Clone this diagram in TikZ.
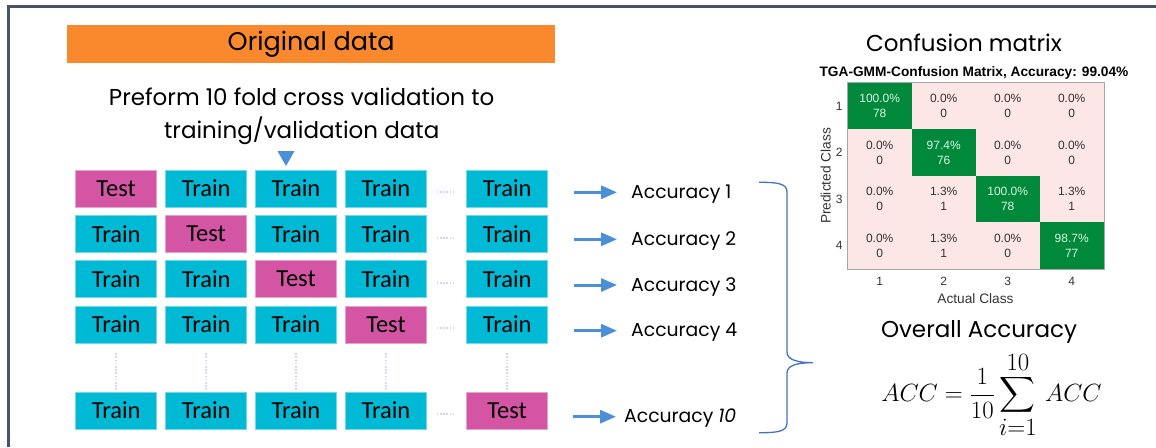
\documentclass[tikz,border=0pt]{standalone}
\usepackage{fontspec}
\usepackage{amsmath}
\newfontfamily\gothic{Poppins}
\newfontfamily\calib{Carlito}
\newfontfamily\arialf{Liberation Sans}
\usetikzlibrary{arrows.meta}
\definecolor{framecol}{HTML}{44546A}
\definecolor{origorange}{HTML}{FA882C}
\definecolor{trainteal}{HTML}{00B9D5}
\definecolor{testpink}{HTML}{D455A4}
\definecolor{arrowblue}{HTML}{4A8FD8}
\definecolor{braceblue}{HTML}{4472C4}
\definecolor{dotcol}{HTML}{D3D8F0}
\definecolor{cmgreen}{HTML}{00893B}
\definecolor{cmpink}{HTML}{FDE6E6}
\definecolor{cmgreentext}{HTML}{DDF5E4}
\definecolor{cmtext}{HTML}{333333}
\tikzset{
  foldbox/.style={minimum width=81pt, minimum height=37pt, inner sep=0pt, line width=0.6pt,
    font=\calib\fontsize{24.5}{24.5}\selectfont},
  trainbox/.style={foldbox, fill=trainteal, draw=trainteal!55!white},
  testbox/.style={foldbox, fill=testpink, draw=testpink!55!white},
  dotsty/.style={dotcol, line width=2.2pt, dash pattern=on 1.6pt off 1.6pt},
  accarrow/.style={arrowblue, line width=3pt, -{Triangle[length=16pt,width=13pt]}},
  acclabel/.style={anchor=base west, inner sep=0pt, font=\gothic\fontsize{18.8}{18.8}\selectfont},
  cmcell/.style={align=center, inner sep=0pt, font=\arialf\fontsize{12}{15}\selectfont},
  cmtick/.style={inner sep=0pt, text=cmtext, font=\arialf\fontsize{12}{12}\selectfont},
  cmaxis/.style={inner sep=0pt, text=cmtext, font=\arialf\fontsize{13.7}{13.7}\selectfont},
  heading/.style={inner sep=0pt, font=\gothic\fontsize{23}{23}\selectfont}
}
\begin{document}
\begin{tikzpicture}[x=1pt,y=-1pt]
\useasboundingbox (0,0) rectangle (1156,447);
% frame
\draw[framecol, line width=2.2pt] (8.5,447) -- (8.5,6.5) -- (1156,6.5);

% original data
\node[fill=origorange, minimum width=488pt, minimum height=37.5pt, inner sep=0pt,
      font=\gothic\fontsize{25.5}{25.5}\selectfont] (orig) at (311.2,43.8) {Original data};
\node[align=center, inner sep=0pt, font=\gothic\fontsize{23}{33}\selectfont] (pref) at (301.7,116.5)
  {Preform 10 fold cross validation to\\training/validation data};
\fill[arrowblue] (277.5,151) -- (294.5,151) -- (286,166) -- cycle;

% grid of folds
\foreach \r/\y in {1/188.3,2/233.7,3/279,4/324.3,5/410.3}{
  \foreach \c/\x in {1/116.2,2/206.2,3/296,4/386,5/507.2}{
    \ifnum\r=\c\relax
      \node[testbox] (b\r\c) at (\x,\y) {Test};
    \else
      \node[trainbox] (b\r\c) at (\x,\y) {Train};
    \fi
  }
  \draw[dotsty, shorten <=10pt, shorten >=13pt] ([yshift=-4pt]b\r4.east) -- ([yshift=-4pt]b\r5.west);
}
\foreach \c in {1,2,3,4,5}{
  \draw[dotsty, shorten <=10pt, shorten >=2pt] (b4\c.south) -- (b5\c.north);
}

% accuracy arrows and labels
\foreach \r/\y/\base in {1/192.3/198.3,2/239.3/245.3,3/285/291,4/330.7/336.7}{
  \coordinate (s\r) at (574,\y);
  \coordinate (e\r) at (617,\y);
  \draw[accarrow] (s\r) -- (e\r);
  \node[acclabel] (acc\r) at (631,\base) {Accuracy \r};
}
\coordinate (s10) at (573,416.7);
\coordinate (e10) at (616,416.7);
\draw[accarrow] (s10) -- (e10);
\node[acclabel] (acc10) at (624,422.7) {Accuracy \textit{10}};

% brace
\draw[braceblue, line width=1.3pt]
  (759,182.3) .. controls (776,182.3) and (787,183) .. (787,192)
  -- (787,352) .. controls (787,360) and (798,362.7) .. (813,362.7)
  .. controls (798,362.7) and (787,365) .. (787,373)
  -- (787,423) .. controls (787,432) and (776,432.7) .. (759,432.7);

% confusion matrix
\node[heading] (cmhead) at (964,43) {Confusion matrix};
\node[inner sep=0pt, font=\arialf\bfseries\fontsize{13.7}{13.7}\selectfont] (cmtitle) at (974,73.3)
  {TGA-GMM-Confusion Matrix, Accuracy: 99.04\%};
\fill[cmpink] (847.7,82.7) rectangle (1104,269);
\foreach \i in {1,2,3,4}{
  \fill[cmgreen] ({847.7+64*(\i-1)},{82.7+46.575*(\i-1)}) rectangle ++(64,46.575);
}
\draw[gray!70, line width=0.8pt] (847.7,82.7) rectangle (1104,269);
\foreach \r/\c/\p/\n in {1/1/100.0\%/78,1/2/0.0\%/0,1/3/0.0\%/0,1/4/0.0\%/0,
                        2/1/0.0\%/0,2/2/97.4\%/76,2/3/0.0\%/0,2/4/0.0\%/0,
                        3/1/0.0\%/0,3/2/1.3\%/1,3/3/100.0\%/78,3/4/1.3\%/1,
                        4/1/0.0\%/0,4/2/1.3\%/1,4/3/0.0\%/0,4/4/98.7\%/77}{
  \ifnum\r=\c\relax
    \node[cmcell, text=cmgreentext] (cell\r\c) at ({847.7+64*(\c-0.5)},{82.7+46.575*(\r-0.5)}) {\p\\\n};
  \else
    \node[cmcell, text=cmtext] (cell\r\c) at ({847.7+64*(\c-0.5)},{82.7+46.575*(\r-0.5)}) {\p\\\n};
  \fi
}
\foreach \i in {1,2,3,4}{
  \node[cmtick] (rt\i) at (839.3,{82.7+46.575*(\i-0.5)}) {\i};
  \node[cmtick] (ct\i) at ({847.7+64*(\i-0.5)},281.7) {\i};
}
\node[cmaxis] (xlab) at (975.5,298.3) {Actual Class};
\node[cmaxis, rotate=90] (ylab) at (825.7,176) {Predicted Class};

% overall accuracy
\node[heading] (ovhead) at (979,331.7) {Overall Accuracy};
\node[inner sep=0pt, font=\fontsize{34}{34}\selectfont] (formula) at (991.5,395)
  {$\displaystyle ACC=\frac{1}{10}\sum_{i=1}^{10}\,ACC$};
\end{tikzpicture}
\end{document}
